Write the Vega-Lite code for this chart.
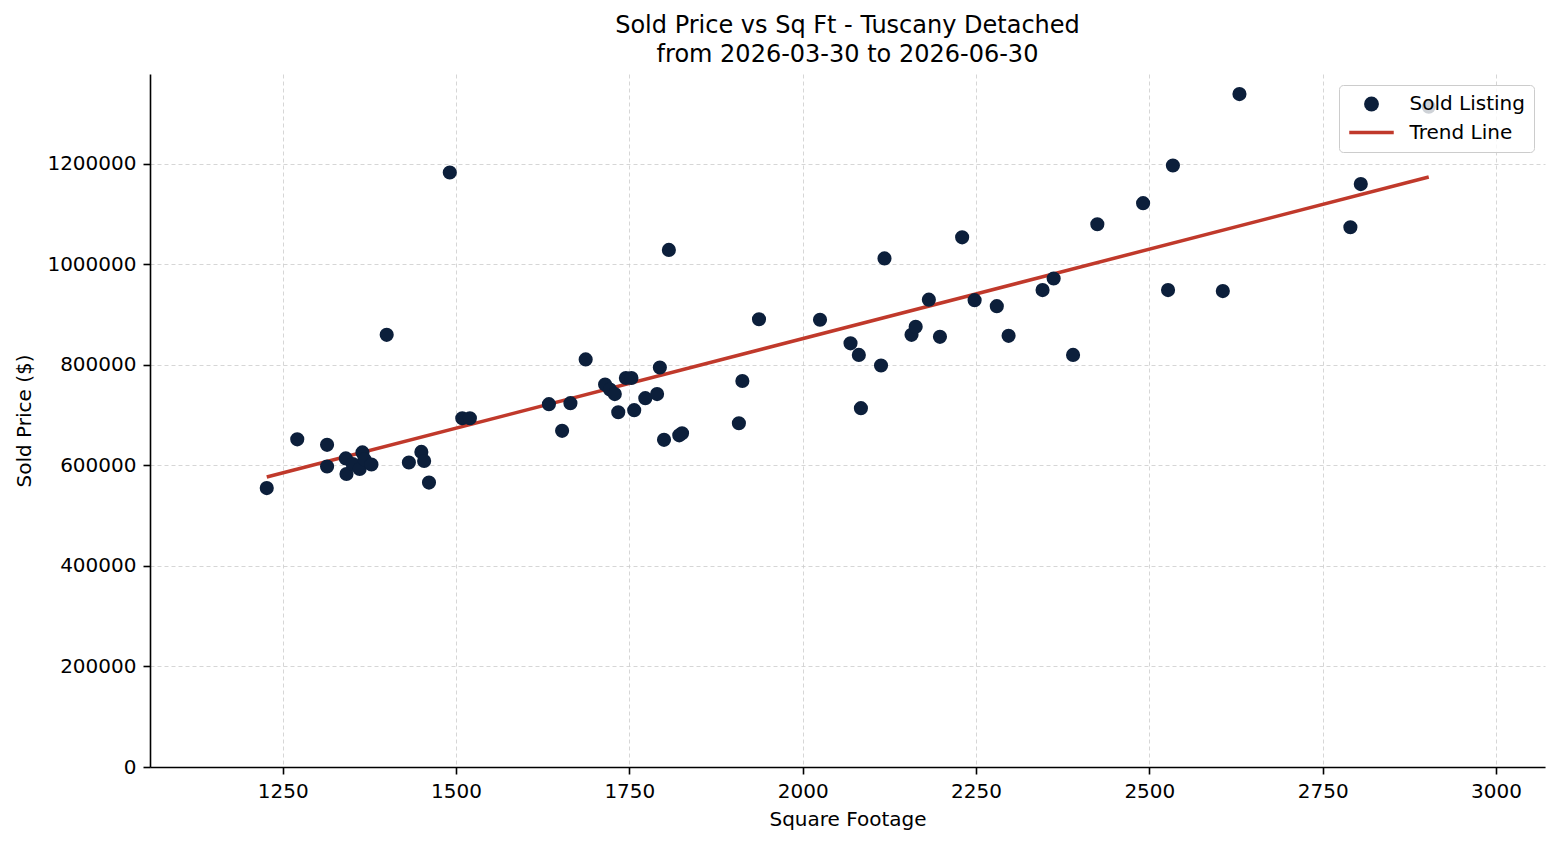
{
  "$schema": "https://vega.github.io/schema/vega-lite/v6.json",
  "width": 1395,
  "height": 693,
  "autosize": {"type": "none"},
  "padding": {"left": 150, "top": 74, "right": 15, "bottom": 78},
  "background": "white",
  "title": {
    "text": ["Sold Price vs Sq Ft - Tuscany Detached", "from 2026-03-30 to 2026-06-30"],
    "font": "DejaVu Sans",
    "fontSize": 24,
    "fontWeight": "normal",
    "color": "black",
    "anchor": "middle",
    "frame": "group",
    "lineHeight": 29,
    "baseline": "bottom",
    "offset": -17
  },
  "config": {
    "view": {"stroke": null},
    "axis": {
      "domainColor": "black",
      "domainWidth": 1.6,
      "tickColor": "black",
      "tickWidth": 1.6,
      "tickSize": 7,
      "labelFont": "DejaVu Sans",
      "labelFontSize": 20,
      "labelColor": "black",
      "labelPadding": 7,
      "titleFont": "DejaVu Sans",
      "titleFontSize": 20,
      "titleFontWeight": "normal",
      "titleColor": "black",
      "gridColor": "#cccccc",
      "gridDash": [4, 3],
      "gridWidth": 0.8
    }
  },
  "datasets": {
    "listings": [
      {"sqft": 1227, "price": 555000}, {"sqft": 1271, "price": 652000}, {"sqft": 1314, "price": 641000},
      {"sqft": 1314, "price": 598000}, {"sqft": 1341, "price": 614000}, {"sqft": 1342, "price": 583000},
      {"sqft": 1351, "price": 603000}, {"sqft": 1361, "price": 593000}, {"sqft": 1365, "price": 626000},
      {"sqft": 1368, "price": 612000}, {"sqft": 1378, "price": 602000}, {"sqft": 1400, "price": 860000},
      {"sqft": 1432, "price": 606000}, {"sqft": 1450, "price": 627000}, {"sqft": 1454, "price": 609000},
      {"sqft": 1461, "price": 566000}, {"sqft": 1491, "price": 1183000}, {"sqft": 1509, "price": 694000},
      {"sqft": 1520, "price": 694000}, {"sqft": 1634, "price": 722000}, {"sqft": 1653, "price": 669000},
      {"sqft": 1665, "price": 724000}, {"sqft": 1687, "price": 811000}, {"sqft": 1715, "price": 761000},
      {"sqft": 1722, "price": 751000}, {"sqft": 1729, "price": 742000}, {"sqft": 1734, "price": 706000},
      {"sqft": 1745, "price": 774000}, {"sqft": 1753, "price": 774000}, {"sqft": 1757, "price": 710000},
      {"sqft": 1773, "price": 734000}, {"sqft": 1790, "price": 742000}, {"sqft": 1794, "price": 795000},
      {"sqft": 1800, "price": 651000}, {"sqft": 1807, "price": 1029000}, {"sqft": 1822, "price": 660000},
      {"sqft": 1826, "price": 664000}, {"sqft": 1908, "price": 684000}, {"sqft": 1913, "price": 768000},
      {"sqft": 1937, "price": 891000}, {"sqft": 2025, "price": 890000}, {"sqft": 2069, "price": 843000},
      {"sqft": 2081, "price": 820000}, {"sqft": 2084, "price": 714000}, {"sqft": 2113, "price": 799000},
      {"sqft": 2118, "price": 1012000}, {"sqft": 2157, "price": 860000}, {"sqft": 2163, "price": 876000},
      {"sqft": 2182, "price": 930000}, {"sqft": 2198, "price": 856000}, {"sqft": 2230, "price": 1054000},
      {"sqft": 2248, "price": 929000}, {"sqft": 2280, "price": 917000}, {"sqft": 2297, "price": 858000},
      {"sqft": 2346, "price": 949000}, {"sqft": 2362, "price": 972000}, {"sqft": 2390, "price": 820000},
      {"sqft": 2425, "price": 1080000}, {"sqft": 2491, "price": 1122000}, {"sqft": 2527, "price": 949000},
      {"sqft": 2534, "price": 1197000}, {"sqft": 2606, "price": 947000}, {"sqft": 2630, "price": 1339000},
      {"sqft": 2790, "price": 1074000}, {"sqft": 2805, "price": 1160000}, {"sqft": 2903, "price": 1314000}
    ],
    "trend": [
      {"sqft": 1227, "price": 577000},
      {"sqft": 2903, "price": 1174000}
    ]
  },
  "encoding": {
    "x": {
      "field": "sqft",
      "type": "quantitative",
      "scale": {"domain": [1058.6, 3070.7], "nice": false, "zero": false},
      "axis": {
        "title": "Square Footage",
        "values": [1250, 1500, 1750, 2000, 2250, 2500, 2750, 3000],
        "format": "d",
        "grid": true,
        "labelFlush": false,
        "labelOverlap": false,
        "titlePadding": 8
      }
    },
    "y": {
      "field": "price",
      "type": "quantitative",
      "scale": {"domain": [0, 1379000], "nice": false},
      "axis": {
        "title": "Sold Price ($)",
        "values": [0, 200000, 400000, 600000, 800000, 1000000, 1200000],
        "format": "d",
        "grid": true,
        "labelFlush": false,
        "labelOverlap": false,
        "titlePadding": 12
      }
    }
  },
  "layer": [
    {
      "data": {"name": "trend"},
      "mark": {"type": "line", "strokeWidth": 3.5, "strokeCap": "butt"},
      "encoding": {
        "color": {
          "datum": "Trend Line",
          "type": "nominal",
          "scale": {"domain": ["Sold Listing", "Trend Line"], "range": ["#0c1f3b", "#c0392b"]},
          "legend": {
            "title": null,
            "orient": "top-right",
            "offset": 11,
            "padding": 9,
            "fillColor": "rgba(255,255,255,0.8)",
            "strokeColor": "#cccccc",
            "cornerRadius": 4,
            "labelFont": "DejaVu Sans",
            "labelFontSize": 20,
            "labelColor": "black",
            "labelOffset": 28,
            "symbolOffset": 13.5,
            "symbolSize": 220,
            "rowPadding": 8.5,
            "encode": {
              "symbols": {
                "update": {
                  "shape": {"signal": "datum.value === 'Trend Line' ? 'M-3,0L3,0' : 'circle'"},
                  "fill": {"signal": "datum.value === 'Trend Line' ? 'transparent' : '#0c1f3b'"},
                  "stroke": {"signal": "datum.value === 'Trend Line' ? '#c0392b' : '#0c1f3b'"},
                  "strokeWidth": {"signal": "datum.value === 'Trend Line' ? 3.5 : 0"},
                  "opacity": {"value": 1},
                  "fillOpacity": {"value": 1},
                  "strokeOpacity": {"value": 1}
                }
              }
            }
          }
        }
      }
    },
    {
      "data": {"name": "listings"},
      "mark": {"type": "point", "filled": true, "shape": "circle", "size": 200, "opacity": 1},
      "encoding": {
        "color": {"datum": "Sold Listing", "type": "nominal"}
      }
    }
  ]
}
